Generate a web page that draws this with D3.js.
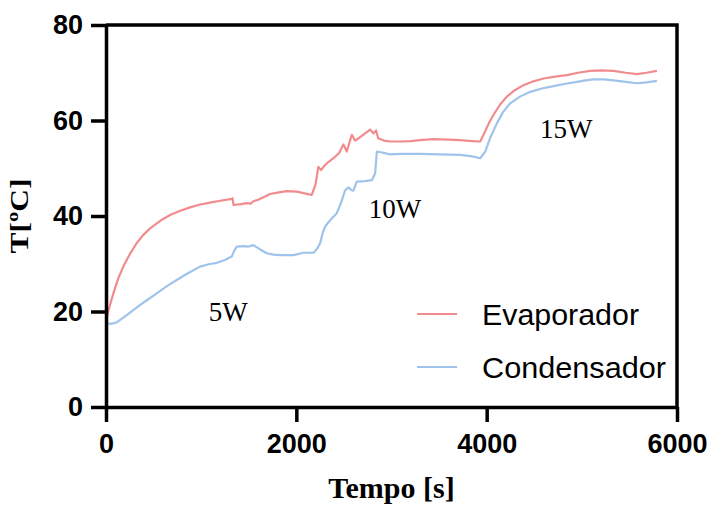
<!DOCTYPE html>
<html>
<head>
<meta charset="utf-8">
<script src="https://cdn.jsdelivr.net/npm/d3@7"></script>
<style>
  body { margin: 0; background: #fff; }
  svg { display: block; }
</style>
</head>
<body>
<div id="chart"></div>
<script>
// Evaporador readings: [tempo (s), T (ºC)]
const evaporador = [
  [0, 18.0], [30, 20.5], [77, 23.8], [130, 27.0], [182, 29.4], [250, 32.0], [322, 34.3],
  [390, 36.0], [463, 37.4], [570, 39.0], [673, 40.2], [780, 41.1], [883, 41.8],
  [990, 42.4], [1093, 42.8], [1200, 43.2], [1321, 43.6], [1330, 43.7], [1340, 42.3],
  [1420, 42.5], [1479, 42.7], [1520, 42.6], [1548, 43.1], [1600, 43.4], [1660, 44.0],
  [1724, 44.6], [1800, 44.9], [1900, 45.2], [2005, 45.1], [2100, 44.7], [2162, 44.4],
  [2200, 46.5], [2232, 50.3], [2260, 49.6], [2285, 50.3], [2330, 51.2], [2390, 52.1],
  [2450, 53.2], [2495, 55.0], [2530, 53.5], [2560, 55.5], [2583, 57.0], [2617, 55.8],
  [2670, 56.5], [2730, 57.4], [2775, 58.1], [2810, 57.3], [2838, 57.9], [2860, 56.3],
  [2920, 55.8], [2985, 55.6], [3100, 55.6], [3200, 55.7], [3300, 55.9], [3441, 56.1],
  [3600, 56.0], [3722, 55.9], [3850, 55.7], [3932, 55.6], [3967, 57.0], [4020, 59.3],
  [4072, 61.2], [4140, 63.3], [4212, 65.0], [4300, 66.4], [4387, 67.4], [4490, 68.2],
  [4597, 68.8], [4720, 69.2], [4843, 69.5], [4960, 70.0], [5088, 70.4], [5210, 70.5],
  [5333, 70.4], [5460, 70.0], [5579, 69.7], [5680, 70.0], [5789, 70.4]
];

// Condensador readings: [tempo (s), T (ºC)]
const condensador = [
  [0, 17.6], [50, 17.4], [112, 17.7], [200, 19.0], [287, 20.3], [410, 22.1], [533, 23.8],
  [640, 25.3], [743, 26.6], [860, 28.0], [988, 29.4], [1080, 29.9], [1164, 30.2],
  [1250, 30.8], [1321, 31.5], [1345, 32.6], [1374, 33.6], [1444, 33.7], [1500, 33.6],
  [1549, 33.9], [1620, 33.0], [1689, 32.2], [1760, 31.9], [1829, 31.8], [1969, 31.8],
  [2074, 32.3], [2180, 32.3], [2220, 33.2], [2250, 34.3], [2275, 36.3], [2302, 37.8],
  [2360, 39.2], [2425, 40.6], [2470, 42.8], [2513, 45.4], [2548, 46.0], [2580, 45.4],
  [2600, 45.3], [2635, 47.2], [2720, 47.3], [2793, 47.5], [2828, 48.9], [2846, 53.5],
  [2900, 53.3], [2985, 52.9], [3100, 53.0], [3300, 53.0], [3500, 52.9], [3722, 52.8],
  [3850, 52.5], [3932, 52.1], [3985, 53.5], [4040, 56.5], [4107, 59.4], [4170, 61.7],
  [4247, 63.6], [4350, 65.0], [4457, 66.0], [4580, 66.7], [4703, 67.2], [4830, 67.7],
  [4948, 68.1], [5040, 68.4], [5123, 68.6], [5230, 68.6], [5333, 68.4], [5460, 68.1],
  [5579, 67.8], [5680, 68.0], [5789, 68.3]
];

const seriesNames = ["Evaporador", "Condensador"];
const seriesColors = ["#f28b8e", "#9fc3ea"];
const xTicks = [0, 2000, 4000, 6000];
const yTicks = [0, 20, 40, 60, 80];
const annotations = [
  { label: "5W", t: 1080, T: 18.0 },
  { label: "10W", t: 2760, T: 39.5 },
  { label: "15W", t: 4560, T: 56.3 }
];

const width = 712, height = 506;
const margin = { top: 25, right: 35, bottom: 99, left: 106 };

const svg = d3.select("#chart")
    .append("svg")
    .attr("width", width)
    .attr("height", height);

const x = d3.scaleLinear()
    .domain([0, 6000])
    .range([margin.left, width - margin.right]);

const y = d3.scaleLinear()
    .domain([0, 80])
    .range([height - margin.bottom, margin.top]);

const line = d3.line()
    .x(d => x(d[0]))
    .y(d => y(d[1]));

// Data lines
[evaporador, condensador].forEach((data, i) => {
    svg.append("path")
        .datum(data)
        .attr("fill", "none")
        .attr("stroke", seriesColors[i])
        .attr("stroke-width", 2.2)
        .attr("stroke-linejoin", "round")
        .attr("d", line);
});

// Box (top and right edges)
svg.append("path")
    .attr("fill", "none")
    .attr("stroke", "#000")
    .attr("stroke-width", 3.5)
    .attr("d", `M${x(0)},${y(80)}H${x(6000)}V${y(0)}`);

// Axes
const yAxis = svg.append("g")
    .attr("transform", `translate(${x(0)},0)`)
    .call(d3.axisLeft(y).tickValues(yTicks).tickSize(15).tickSizeOuter(0).tickPadding(8));

const xAxis = svg.append("g")
    .attr("transform", `translate(0,${y(0)})`)
    .call(d3.axisBottom(x).tickValues(xTicks).tickSize(15).tickSizeOuter(0).tickPadding(12)
        .tickFormat(d3.format("d")));

[xAxis, yAxis].forEach(g => {
    g.selectAll("path, line")
        .attr("stroke", "#000")
        .attr("stroke-width", 3.5);
    g.selectAll("text")
        .attr("fill", "#000")
        .style("font-family", "'Liberation Sans', Arial, sans-serif")
        .style("font-weight", "bold")
        .style("font-size", "27px");
});

// Axis titles
svg.append("text")
    .attr("x", (x(0) + x(6000)) / 2)
    .attr("y", 498)
    .attr("text-anchor", "middle")
    .style("font-family", "'Liberation Serif', 'Times New Roman', serif")
    .style("font-weight", "bold")
    .style("font-size", "30px")
    .text("Tempo [s]");

svg.append("text")
    .attr("transform", "translate(28,216) rotate(-90)")
    .attr("text-anchor", "middle")
    .attr("textLength", 75)
    .attr("lengthAdjust", "spacingAndGlyphs")
    .style("font-family", "'Liberation Serif', 'Times New Roman', serif")
    .style("font-weight", "bold")
    .style("font-size", "26px")
    .text("T[ºC]");

// Power annotations
svg.selectAll(".note")
    .data(annotations)
    .enter()
    .append("text")
    .attr("class", "note")
    .attr("x", d => x(d.t))
    .attr("y", d => y(d.T))
    .style("font-family", "'Liberation Serif', 'Times New Roman', serif")
    .style("font-size", "27px")
    .text(d => d.label);

// Legend
const legend = svg.append("g")
    .attr("transform", "translate(417,314)");

seriesNames.forEach((name, i) => {
    const row = legend.append("g")
        .attr("transform", `translate(0,${i * 53})`);
    row.append("line")
        .attr("x1", 0)
        .attr("x2", 40)
        .attr("stroke", seriesColors[i])
        .attr("stroke-width", 2);
    row.append("text")
        .attr("x", 65)
        .attr("y", 11)
        .attr("textLength", i === 0 ? 157 : 184)
        .attr("lengthAdjust", "spacingAndGlyphs")
        .style("font-family", "'Liberation Sans', Arial, sans-serif")
        .style("font-size", "30px")
        .text(name);
});
</script>
</body>
</html>
